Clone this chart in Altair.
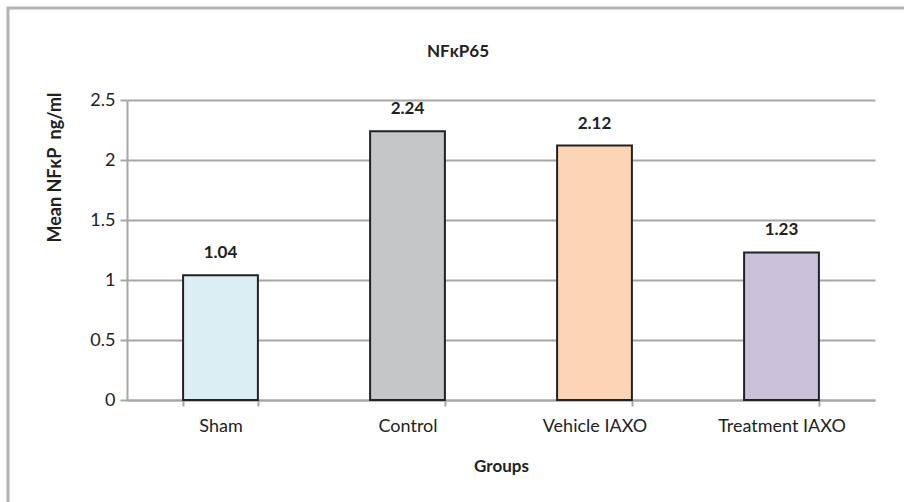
import altair as alt
import pandas as pd

# Mean NF-kB p65 concentration per experimental group
groups = ["Sham", "Control", "Vehicle IAXO", "Treatment IAXO"]
means = [1.04, 2.24, 2.12, 1.23]
fills = ["#DBEEF4", "#C5C6C8", "#FBD5B5", "#CCC1DA"]
chart_title = "NFκP65"

df = pd.DataFrame({"group": groups, "mean": means, "label": [f"{v:.2f}" for v in means]})

FONT = "Lato"
AXIS_GRAY = "#A6A6A6"
TEXT = "#222222"

x_enc = alt.X(
    "group:N",
    sort=groups,
    scale=alt.Scale(paddingInner=0.6, paddingOuter=0.3),
    axis=alt.Axis(
        title="Groups",
        labelAngle=0,
        labelFontSize=18,
        labelColor=TEXT,
        labelPadding=11,
        tickBand="extent",
        tickSize=6,
        tickColor=AXIS_GRAY,
        tickWidth=2,
        domainColor=AXIS_GRAY,
        domainWidth=2,
        titleFontSize=17,
        titleFontWeight="bold",
        titleColor=TEXT,
        titleY=66,
        titleBaseline="middle",
        grid=False,
    ),
)

y_enc = alt.Y(
    "mean:Q",
    scale=alt.Scale(domain=[0, 2.5], nice=False),
    axis=alt.Axis(
        title="Mean NFκP\u00a0 ng/ml",
        values=[0, 0.5, 1, 1.5, 2, 2.5],
        format="~g",
        labelFontSize=18,
        labelColor=TEXT,
        labelPadding=5,
        tickSize=7,
        tickColor=AXIS_GRAY,
        tickWidth=2,
        domainColor=AXIS_GRAY,
        domainWidth=2,
        gridColor=AXIS_GRAY,
        gridWidth=2,
        titleFontSize=18,
        titleFontWeight="bold",
        titleColor=TEXT,
        titleAngle=270,
        titleX=-72,
        titleY=67,
        titleAlign="center",
        titleBaseline="middle",
    ),
)

bars = alt.Chart(df).mark_bar(stroke=TEXT, strokeWidth=2).encode(
    x=x_enc,
    y=y_enc,
    fill=alt.Fill("group:N", scale=alt.Scale(domain=groups, range=fills), legend=None),
)

labels = alt.Chart(df).mark_text(
    font=FONT, fontSize=17, fontWeight="bold", color=TEXT, baseline="alphabetic", dy=-17
).encode(
    x=alt.X("group:N", sort=groups),
    y="mean:Q",
    text="label:N",
)

# outer chart frame (only the top and left edges fall inside the canvas)
frame = alt.Chart(alt.Data(values=[{}])).mark_rect(
    fill=None, stroke="#B4B4B4", strokeWidth=3
).encode(
    x=alt.value(-119), x2=alt.value(820), y=alt.value(-92), y2=alt.value(460)
)

# chart heading above the plot area
heading = alt.Chart(alt.Data(values=[{}])).mark_text(
    text=chart_title, font=FONT, fontSize=17, fontWeight="bold", color=TEXT,
    align="center", baseline="alphabetic",
).encode(x=alt.value(331), y=alt.value(-43))

chart = (
    alt.layer(frame, bars, labels, heading)
    .properties(
        width=748,
        height=300,
        padding={"left": 127, "top": 100, "right": 29, "bottom": 102},
        autosize=alt.AutoSizeParams(type="none"),
    )
    .configure(font=FONT, background="white")
    .configure_axis(labelFont=FONT, titleFont=FONT)
    .configure_view(stroke=None)
)

chart.save("out.html", embed_options={"renderer": "svg", "actions": False})
